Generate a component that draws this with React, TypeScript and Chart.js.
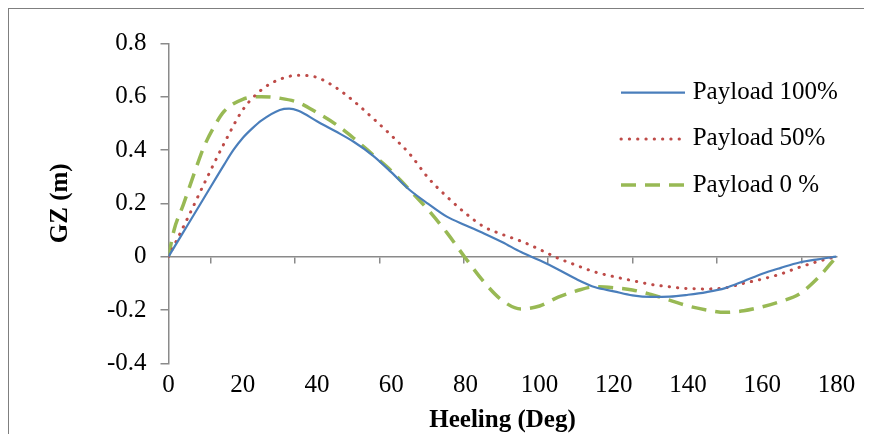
import React, { useEffect, useRef } from "react";
import { Chart, registerables } from "chart.js";

Chart.register(...registerables);

// ---- data ----
const seriesLabels = ["Payload 100%", "Payload 50%", "Payload 0 %"];

const heeling100 = [0, 5, 10, 15, 17.5, 20, 22.5, 25, 30, 32.5, 35, 40, 45, 50, 55, 60, 65, 70, 75, 80, 85, 90, 95, 100, 105, 110, 115, 120, 125, 130, 135, 140, 145, 150, 155, 160, 165, 170, 175, 180];
const gz100 = [0, 0.115, 0.23, 0.345, 0.4, 0.445, 0.48, 0.51, 0.55, 0.555, 0.547, 0.508, 0.47, 0.43, 0.38, 0.317, 0.25, 0.198, 0.15, 0.118, 0.087, 0.054, 0.017, -0.014, -0.048, -0.085, -0.115, -0.13, -0.145, -0.151, -0.15, -0.143, -0.133, -0.118, -0.092, -0.064, -0.042, -0.022, -0.01, 0];

const heeling50 = [0, 5, 10, 15, 20, 25, 30, 35, 40, 45, 50, 55, 60, 65, 70, 75, 80, 85, 90, 95, 100, 105, 110, 115, 120, 125, 130, 135, 140, 145, 150, 155, 160, 165, 170, 175, 180];
const gz50 = [0, 0.14, 0.285, 0.425, 0.55, 0.625, 0.665, 0.68, 0.672, 0.635, 0.582, 0.52, 0.455, 0.385, 0.295, 0.225, 0.163, 0.112, 0.083, 0.058, 0.027, -0.006, -0.033, -0.058, -0.075, -0.09, -0.104, -0.113, -0.12, -0.121, -0.117, -0.1, -0.084, -0.065, -0.04, -0.018, 0];

const heeling0 = [0, 1.5, 4, 7, 9.5, 12, 15, 20, 25, 30, 35, 40, 45, 50, 55, 60, 65, 70, 75, 80, 85, 90, 95, 100, 105, 110, 115, 120, 125, 130, 135, 140, 145, 150, 155, 160, 165, 170, 175, 180];
const gz0 = [0, 0.1, 0.195, 0.315, 0.41, 0.48, 0.545, 0.59, 0.6, 0.594, 0.578, 0.54, 0.497, 0.443, 0.383, 0.322, 0.25, 0.175, 0.09, -0.005, -0.095, -0.165, -0.196, -0.185, -0.152, -0.128, -0.113, -0.117, -0.125, -0.142, -0.163, -0.185, -0.2, -0.209, -0.203, -0.188, -0.168, -0.14, -0.08, 0];

const xMin = 0;
const xMax = 180;
const xStep = 20;
const yMin = -0.4;
const yMax = 0.8;
const yStep = 0.2;
const xTickMarks = [11.3, 34.0, 56.8, 79.6, 102.3, 125.1, 147.8, 170.6];
const xTitle = "Heeling (Deg)";
const yTitle = "GZ (m)";

// ---- styles ----
const FONT = '"Liberation Serif", "Times New Roman", serif';
const AXIS_GRAY = "#8a8a8a";
const colors = ["#4A7EBB", "#BE4B48", "#98B954"];
const W = 863;
const H = 425;

const insideLegend = {
  id: "insideLegend",
  afterDraw(chart: any) {
    const ctx = chart.ctx;
    chart.data.datasets.forEach((ds: any, i: number) => {
      const y = 83.7 + i * 46.2;
      ctx.save();
      ctx.strokeStyle = ds.borderColor;
      ctx.lineWidth = ds.borderWidth;
      ctx.lineCap = ds.borderCapStyle || "butt";
      ctx.setLineDash(ds.borderDash || []);
      ctx.beginPath();
      ctx.moveTo(612, y);
      ctx.lineTo(676, y);
      ctx.stroke();
      ctx.setLineDash([]);
      ctx.fillStyle = "#000";
      ctx.font = `25px ${FONT}`;
      ctx.textBaseline = "middle";
      ctx.textAlign = "left";
      ctx.fillText(ds.label, 683.7, y);
      ctx.restore();
    });
  },
};

export default function App() {
  const ref = useRef<HTMLCanvasElement | null>(null);

  useEffect(() => {
    if (!ref.current) return;
    Chart.defaults.font.family = FONT;
    Chart.defaults.color = "#000";

    const toPts = (xs: number[], ys: number[]) => xs.map((x, i) => ({ x, y: ys[i] }));

    const chart = new Chart(ref.current, {
      type: "line",
      data: {
        datasets: [
          {
            label: seriesLabels[0],
            data: toPts(heeling100, gz100),
            borderColor: colors[0],
            borderWidth: 2.2,
            pointRadius: 0,
            cubicInterpolationMode: "monotone",
            fill: false,
          },
          {
            label: seriesLabels[1],
            data: toPts(heeling50, gz50),
            borderColor: colors[1],
            borderWidth: 3,
            borderDash: [0.3, 8],
            borderCapStyle: "round",
            pointRadius: 0,
            cubicInterpolationMode: "monotone",
            fill: false,
          },
          {
            label: seriesLabels[2],
            data: toPts(heeling0, gz0),
            borderColor: colors[2],
            borderWidth: 3.5,
            borderDash: [15, 9],
            pointRadius: 0,
            cubicInterpolationMode: "monotone",
            fill: false,
          },
        ],
      },
      options: {
        animation: false,
        responsive: false,
        events: [],
        layout: { padding: { left: 0, right: W - 827.5, top: 34.3, bottom: 0 } },
        plugins: {
          legend: { display: false },
          tooltip: { enabled: false },
        },
        scales: {
          x: {
            type: "linear",
            position: "bottom",
            min: xMin,
            max: xMax,
            ticks: { stepSize: xStep, padding: 7, font: { size: 25 }, color: "#000" },
            grid: { display: false, drawTicks: false },
            border: { display: false },
            title: {
              display: true,
              text: xTitle,
              font: { size: 25, weight: "bold", lineHeight: 1.1 },
              color: "#000",
              padding: { top: 0, bottom: 0 },
            },
            afterFit: (s: any) => {
              s.height = H - 354.3;
            },
          },
          x2: {
            type: "linear",
            axis: "x",
            position: { y: 0 },
            min: xMin,
            max: xMax,
            ticks: { display: false, autoSkip: false },
            grid: { drawOnChartArea: false, drawTicks: true, tickLength: 6, color: AXIS_GRAY, lineWidth: 1.5 },
            border: { display: true, color: AXIS_GRAY, width: 1.5 },
            afterBuildTicks: (s: any) => {
              s.ticks = xTickMarks.map((v) => ({ value: v }));
            },
          },
          y: {
            type: "linear",
            position: "left",
            min: yMin,
            max: yMax,
            ticks: {
              stepSize: yStep,
              padding: 14,
              font: { size: 25 },
              color: "#000",
              callback: (v: any) => String(Number(Number(v).toFixed(1))),
            },
            grid: { drawOnChartArea: false, drawTicks: true, tickLength: 8, color: AXIS_GRAY, lineWidth: 1.5 },
            border: { display: true, color: AXIS_GRAY, width: 1.5 },
            title: {
              display: true,
              text: yTitle,
              font: { size: 25, weight: "bold", lineHeight: 1.1 },
              color: "#000",
              padding: { top: 38, bottom: 0 },
            },
            afterFit: (s: any) => {
              s.width = 159.5;
            },
          },
        },
      } as any,
      plugins: [insideLegend],
    });

    return () => chart.destroy();
  }, []);

  return (
    <div
      style={{
        width: W,
        height: H,
        borderTop: "1px solid #7f7f7f",
        borderLeft: "1px solid #7f7f7f",
        overflow: "hidden",
      }}
    >
      <canvas ref={ref} width={W} height={H} style={{ display: "block" }} />
    </div>
  );
}
